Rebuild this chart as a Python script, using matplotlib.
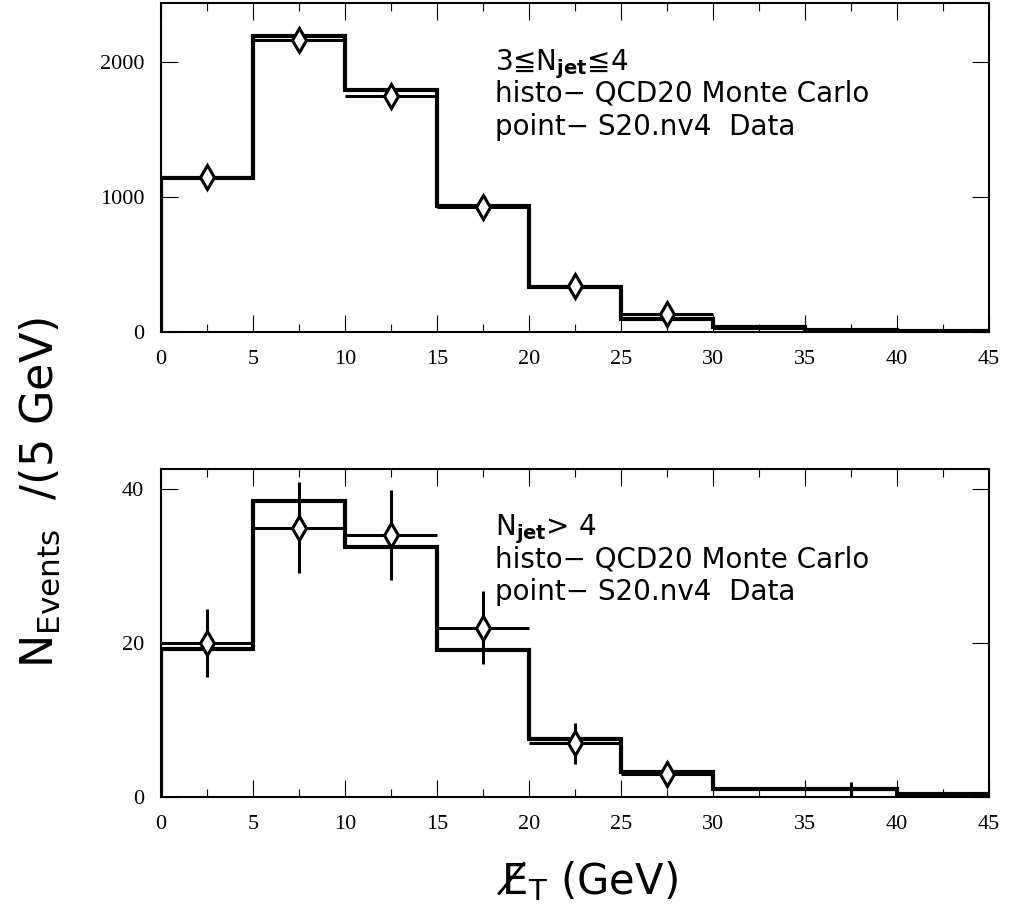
import numpy as np
import matplotlib
matplotlib.use("Agg")
import matplotlib.pyplot as plt
from matplotlib.ticker import MultipleLocator, FixedLocator

matplotlib.rcParams['font.family'] = ['DejaVu Sans', 'Noto Sans CJK JP']
matplotlib.rcParams['mathtext.fontset'] = 'dejavusans'

# missing E_T bins (GeV)
edges = [0, 5, 10, 15, 20, 25, 30, 35, 40, 45]
centers = [2.5, 7.5, 12.5, 17.5, 22.5, 27.5, 32.5, 37.5, 42.5]

# 3 <= Njet <= 4
mc_34 = [1140, 2193, 1793, 935, 335, 95, 35, 15, 8]
data_34 = [1150, 2160, 1750, 928, 342, 130, 30, 18, 6]
err_34 = [34, 46, 42, 30, 18, 11, 5, 4, 2]

# Njet > 4
mc_5 = [19.2, 38.5, 32.5, 19.1, 7.5, 3.2, 1.0, 1.0, 0.45]
data_5 = [20, 35, 34, 22, 7, 3, 0, 1, 0]
err_5 = [4.47, 5.92, 5.83, 4.69, 2.65, 1.73, 0, 1, 0]

W, H = 1012, 913
fig = plt.figure(figsize=(W / 100, H / 100), dpi=100)

serif = 'Liberation Serif'


def panel(rect, mc, data, err, ymax, yticks, lines):
    ax = fig.add_axes(rect)
    ax.stairs(mc, edges, color='k', lw=3.0, zorder=2)
    ax.errorbar(centers, data, xerr=2.5, yerr=err, fmt='none', ecolor='k',
                elinewidth=2.2, capsize=0, zorder=3)
    # PAW skips markers that would poke out of the frame
    cut = 0.04 * ymax
    d = np.array(data, dtype=float)
    c = np.array(centers)
    m = d > cut
    ax.plot(c[m], d[m], ls='none', marker='d', ms=12, mfc='white',
            mec='k', mew=2.2, zorder=4)
    ax.set_xlim(0, 45)
    ax.set_ylim(0, ymax)
    ax.xaxis.set_major_locator(MultipleLocator(5))
    ax.xaxis.set_minor_locator(MultipleLocator(2.5))
    ax.yaxis.set_major_locator(FixedLocator(yticks))
    ax.tick_params(which='both', direction='in', top=True, right=True, width=0.8)
    ax.tick_params(which='major', length=12)
    ax.tick_params(which='minor', length=6)
    ax.tick_params(axis='x', pad=13)
    ax.tick_params(axis='y', pad=12)
    for lab in ax.get_xticklabels() + ax.get_yticklabels():
        lab.set_fontfamily(serif)
        lab.set_fontsize(16)
    for s in ax.spines.values():
        s.set_linewidth(1.5)
    for t, y in zip(lines, [0.797, 0.70, 0.60]):
        ax.text(18.15, y, t, fontsize=20, va='baseline', ha='left',
                transform=ax.get_xaxis_transform())
    return ax


panel([161 / W, 1 - 332 / H, 828 / W, 329 / H], mc_34, data_34, err_34, 2437,
      [0, 1000, 2000],
      [r"3≦N$_{\mathbf{jet}}$≦4", "histo\u2212 QCD20 Monte Carlo",
       "point\u2212 S20.nv4  Data"])

panel([161 / W, 1 - 797 / H, 828 / W, 328 / H], mc_5, data_5, err_5, 42.6,
      [0, 20, 40],
      [r"N$_{\mathbf{jet}}$> 4", "histo\u2212 QCD20 Monte Carlo",
       "point\u2212 S20.nv4  Data"])

fig.text(40 / W, 1 - 492 / H, r"N$_{\mathsf{Events}}$  /(5 GeV)", rotation=90,
         fontsize=32, ha='center', va='center')
# slashed E_T, combining long solidus overlay
fig.text(497 / W, 1 - 894 / H, "E\u0338$_{\\mathsf{T}}$ (GeV)",
         fontsize=30, ha='left', va='baseline')

fig.savefig("out.png", dpi=100)
